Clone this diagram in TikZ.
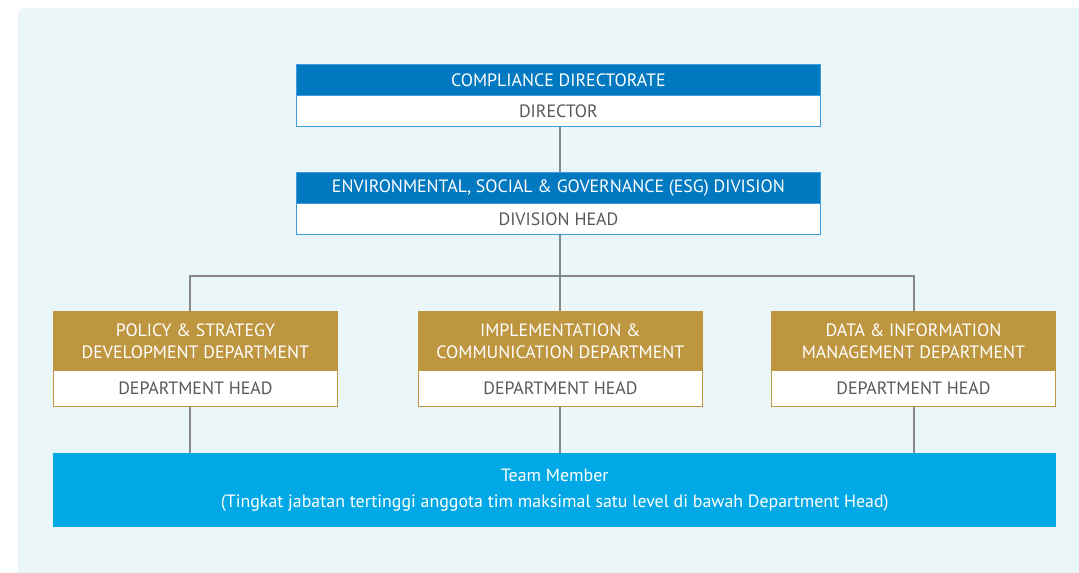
\documentclass[tikz,border=0pt]{standalone}
\usepackage{fontspec}
\setmainfont{PT Sans}
\definecolor{bgpanel}{HTML}{EBF6F8}
\definecolor{hdrblue}{HTML}{0079C1}
\definecolor{bordblue}{HTML}{3C9BD8}
\definecolor{gold}{HTML}{BE9640}
\definecolor{teamblue}{HTML}{00A8E5}
\definecolor{txtgray}{HTML}{595959}
\definecolor{linegray}{HTML}{888888}
\tikzset{
  px/.style={x=0.75pt,y=-0.75pt},
  bluehdr/.style={rectangle,fill=hdrblue,draw=bordblue,line width=0.6pt,inner sep=0pt,minimum width=393pt,minimum height=23.25pt,anchor=north west,text=white,font=\fontsize{13.4}{15}\selectfont},
  bluerow/.style={rectangle,fill=white,draw=bordblue,line width=0.6pt,inner sep=0pt,minimum width=393pt,minimum height=23.25pt,anchor=north west,text=txtgray,font=\fontsize{13.4}{15}\selectfont},
  goldhdr/.style={rectangle,fill=gold,draw=gold,line width=0.6pt,inner sep=0pt,minimum width=213pt,minimum height=44.25pt,anchor=north west,text=white,align=center,font=\fontsize{13.4}{16.5}\selectfont},
  goldrow/.style={rectangle,fill=white,draw=gold,line width=0.6pt,inner sep=0pt,minimum width=213pt,minimum height=27pt,anchor=north west,text=txtgray,font=\fontsize{13.4}{15}\selectfont},
  conn/.style={draw=linegray,line width=1.1pt},
}
\begin{document}
\begin{tikzpicture}[px]
\useasboundingbox (0,0) rectangle (1079,572);
\fill[bgpanel,rounded corners=6pt] (18,8) rectangle (1079+20,572+20);
% top
\node[bluehdr] (cdh) at (296,64) {COMPLIANCE DIRECTORATE};
\node[bluerow] (cdw) at (296,95) {DIRECTOR};
\node[bluehdr] (esgh) at (296,172) {ENVIRONMENTAL, SOCIAL \& GOVERNANCE (ESG) DIVISION};
\node[bluerow] (esgw) at (296,203) {DIVISION HEAD};
% departments
\node[goldhdr] (d1h) at (53,311) {POLICY \& STRATEGY\\DEVELOPMENT DEPARTMENT};
\node[goldrow] (d1w) at (53,370) {DEPARTMENT HEAD};
\node[goldhdr] (d2h) at (418,311) {IMPLEMENTATION \&\\COMMUNICATION DEPARTMENT};
\node[goldrow] (d2w) at (418,370) {DEPARTMENT HEAD};
\node[goldhdr] (d3h) at (771,311) {DATA \& INFORMATION\\MANAGEMENT DEPARTMENT};
\node[goldrow] (d3w) at (771,370) {DEPARTMENT HEAD};
% team
\node[rectangle,fill=teamblue,inner sep=0pt,minimum width=752.25pt,minimum height=55.5pt,anchor=north west,text=white,align=center,font=\fontsize{13.4}{19.5}\selectfont] (team) at (53,453)
  {Team Member\\(Tingkat jabatan tertinggi anggota tim maksimal satu level di bawah Department Head)};
% connectors
\coordinate (spine) at (560,276);
\coordinate (c1) at (190,276);
\coordinate (c3) at (914,276);
\draw[conn] (cdw.south -| spine) -- (esgh.north -| spine);
\draw[conn] (esgw.south -| spine) -- (spine);
\draw[conn] (d1h.north -| c1) -- (c1) -- (c3) -- (d3h.north -| c3);
\draw[conn] (spine) -- (d2h.north -| spine);
\draw[conn] (d1w.south -| c1) -- (team.north -| c1);
\draw[conn] (d2w.south -| spine) -- (team.north -| spine);
\draw[conn] (d3w.south -| c3) -- (team.north -| c3);
\end{tikzpicture}
\end{document}
